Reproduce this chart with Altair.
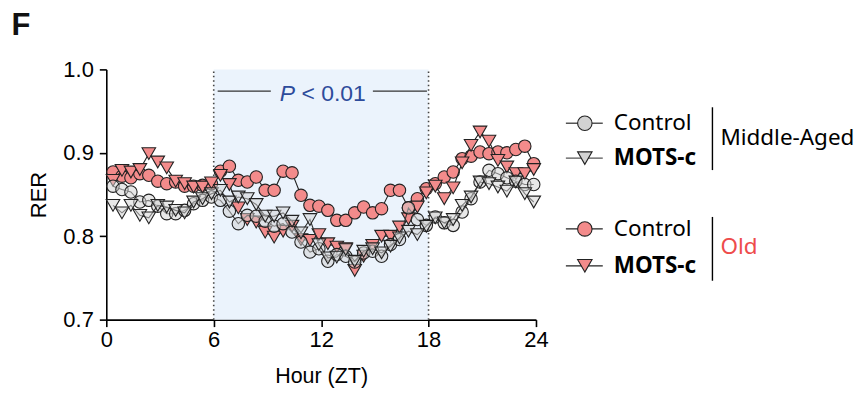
import altair as alt
import pandas as pd

# ---------------- data ----------------
hours = [0.375 + 0.5 * i for i in range(48)]

ma_control = [0.860, 0.856, 0.853, 0.841, 0.843, 0.836, 0.827, 0.827, 0.831, 0.839, 0.843, 0.847,
              0.843, 0.830, 0.815, 0.825, 0.824, 0.818, 0.812, 0.815, 0.805, 0.793, 0.781, 0.785,
              0.770, 0.778, 0.776, 0.769, 0.780, 0.782, 0.776, 0.790, 0.796, 0.834, 0.820, 0.813,
              0.823, 0.816, 0.813, 0.829, 0.845, 0.865, 0.879, 0.875, 0.870, 0.866, 0.862, 0.862]
ma_motsc = [0.837, 0.828, 0.837, 0.825, 0.822, 0.837, 0.835, 0.831, 0.828, 0.841, 0.845, 0.851,
            0.855, 0.841, 0.847, 0.845, 0.838, 0.824, 0.824, 0.828, 0.818, 0.804, 0.820, 0.790,
            0.774, 0.775, 0.784, 0.770, 0.782, 0.785, 0.780, 0.788, 0.798, 0.806, 0.802, 0.812,
            0.822, 0.816, 0.820, 0.837, 0.847, 0.865, 0.863, 0.859, 0.854, 0.865, 0.851, 0.841]
old_control = [0.877, 0.872, 0.870, 0.875, 0.873, 0.866, 0.863, 0.865, 0.860, 0.860, 0.861, 0.863,
               0.878, 0.884, 0.867, 0.865, 0.871, 0.855, 0.855, 0.878, 0.876, 0.849, 0.837, 0.836,
               0.831, 0.819, 0.819, 0.828, 0.835, 0.828, 0.833, 0.855, 0.855, 0.834, 0.845, 0.857,
               0.863, 0.871, 0.877, 0.893, 0.896, 0.901, 0.899, 0.901, 0.900, 0.904, 0.908, 0.887]
old_motsc = [0.867, 0.879, 0.877, 0.880, 0.899, 0.889, 0.882, 0.866, 0.863, 0.859, 0.859, 0.864,
             0.873, 0.862, 0.834, 0.820, 0.817, 0.805, 0.799, 0.806, 0.812, 0.796, 0.795, 0.802,
             0.791, 0.787, 0.785, 0.759, 0.776, 0.789, 0.800, 0.800, 0.811, 0.821, 0.835, 0.852,
             0.860, 0.845, 0.858, 0.888, 0.909, 0.925, 0.914, 0.891, 0.883, 0.875, 0.875, 0.880]

x_ticks = [0, 6, 12, 18, 24]
y_ticks = [0.7, 0.8, 0.9, 1.0]
night = {"start": [6], "end": [18], "lo": [0.7], "hi": [1.0]}
dotted_at = [6, 18]
p_italic = "P"
p_rest = "< 0.01"

# ---------------- styles / layout ----------------
W, H = 431, 251
AX_FONT = "Liberation Sans"
LEG_FONT = "Noto Sans"
RED = "#F38B8B"
GRAY = "#D2D2D2"
BLUE = "#2D4B9B"
OLD_RED = "#EE4B4B"

xs = alt.Scale(domain=[0, 24], nice=False, zero=False)
ys = alt.Scale(domain=[0.7, 1.0], nice=False, zero=False)

x_axis = alt.Axis(
    values=x_ticks, title="Hour (ZT)", format="d", grid=False,
    labelFont=AX_FONT, titleFont=AX_FONT, labelFontSize=22, titleFontSize=21.5,
    titleFontWeight="normal", labelColor="black", titleColor="black",
    domainColor="black", domainWidth=1.6, tickColor="black", tickWidth=1.6,
    tickSize=7, labelPadding=3, titlePadding=15, labelFlush=False)
y_axis = alt.Axis(
    values=y_ticks, title="RER", format=".1f", grid=False,
    labelFont=AX_FONT, titleFont=AX_FONT, labelFontSize=22, titleFontSize=22,
    titleFontWeight="normal", labelColor="black", titleColor="black",
    domainColor="black", domainWidth=1.6, tickColor="black", tickWidth=1.6,
    tickSize=7, labelPadding=6, titlePadding=12, labelFlush=False)


def X(f):
    return alt.X(f, scale=xs, axis=x_axis)


def Y(f):
    return alt.Y(f, scale=ys, axis=y_axis)


one = pd.DataFrame({"k": [0]})

# shaded dark phase
shade = alt.Chart(pd.DataFrame(night)).mark_rect(color="#EBF3FC").encode(
    x=X("start:Q"), x2="end:Q", y=Y("lo:Q"), y2="hi:Q")

rules = alt.Chart(pd.DataFrame({"start": dotted_at, "lo": [0.7, 0.7], "hi": [1.0, 1.0]})).mark_rule(
    color="#444", strokeWidth=1.6, strokeDash=[1.5, 3]).encode(
    x=X("start:Q"), y=Y("lo:Q"), y2="hi:Q")

# P annotation
P_Y = 0.974
P_TXT_Y = 0.962
ann_lines = alt.Chart(pd.DataFrame({"start": [6.22, 14.89], "end": [9.19, 17.91], "lo": [P_Y, P_Y]})).mark_rule(
    color="#333", strokeWidth=1.2).encode(x=X("start:Q"), x2="end:Q", y=Y("lo:Q"))
ann_p = alt.Chart(pd.DataFrame({"start": [10.12], "lo": [P_TXT_Y]})).mark_text(
    text=p_italic, font=AX_FONT, fontSize=23, fontStyle="italic", color=BLUE,
    align="center", baseline="alphabetic").encode(x=X("start:Q"), y=Y("lo:Q"))
ann_rest = alt.Chart(pd.DataFrame({"start": [10.9], "lo": [P_TXT_Y]})).mark_text(
    text=p_rest, font=AX_FONT, fontSize=23, color=BLUE,
    align="left", baseline="alphabetic").encode(x=X("start:Q"), y=Y("lo:Q"))


def series(vals, shape, fill, fill_op, size, line_color):
    df = pd.DataFrame({"start": hours, "lo": vals})
    enc = dict(x=X("start:Q"), y=Y("lo:Q"))
    line = alt.Chart(df).mark_line(color=line_color, strokeWidth=1.1).encode(**enc)
    pts = alt.Chart(df).mark_point(shape=shape, filled=True, fill=fill, fillOpacity=fill_op,
                                   stroke="#222", strokeWidth=1.1, size=size, opacity=1).encode(**enc)
    return [line, pts]


layers = [shade, rules, ann_lines, ann_p, ann_rest]
layers += series(old_control, "circle", RED, 1.0, 155, "#222")
layers += series(old_motsc, "triangle-down", RED, 1.0, 185, "#222")
layers += series(ma_control, "circle", GRAY, 0.5, 155, "#333")
layers += series(ma_motsc, "triangle-down", GRAY, 0.5, 185, "#333")

# ---------------- legend (pixel positions relative to plot origin) ----------------
LX0, LX1, LSX, LTX = 461, 498, 480, 509


def legend_row(y, shape, fill, line_color, label, bold):
    ln = alt.Chart(one).mark_rule(color=line_color, strokeWidth=1.3).encode(
        x=alt.value(LX0), x2=alt.value(LX1), y=alt.value(y))
    sym = alt.Chart(one).mark_point(shape=shape, filled=True, fill=fill, stroke="#222",
                                    strokeWidth=1.1, size=210, opacity=1).encode(
        x=alt.value(LSX), y=alt.value(y))
    txt = alt.Chart(one).mark_text(text=label, font=LEG_FONT, fontSize=22.5,
                                   fontWeight="bold" if bold else "normal", color="black",
                                   align="left", baseline="middle").encode(
        x=alt.value(LTX), y=alt.value(y))
    return [ln, sym, txt]


layers += legend_row(54, "circle", GRAY, "#555", "Control", False)
layers += legend_row(89, "triangle-down", GRAY, "#555", "MOTS-c", True)
layers += legend_row(160, "circle", RED, "#222", "Control", False)
layers += legend_row(197, "triangle-down", RED, "#222", "MOTS-c", True)

for y0, y1 in [(38, 101), (148, 212)]:
    layers.append(alt.Chart(one).mark_rule(color="black", strokeWidth=1.4).encode(
        x=alt.value(608), y=alt.value(y0), y2=alt.value(y1)))

layers.append(alt.Chart(one).mark_text(text="Middle-Aged", font=LEG_FONT, fontSize=22.5,
                                       color="black", align="left", baseline="middle").encode(
    x=alt.value(616), y=alt.value(69)))
layers.append(alt.Chart(one).mark_text(text="Old", font=LEG_FONT, fontSize=22.5,
                                       color=OLD_RED, align="left", baseline="middle").encode(
    x=alt.value(616), y=alt.value(178)))

# panel letter
layers.append(alt.Chart(one).mark_text(text="F", font=AX_FONT, fontSize=31, fontWeight="bold",
                                       color="#111", align="left", baseline="alphabetic").encode(
    x=alt.value(-95), y=alt.value(-34)))

chart = alt.layer(*layers).properties(
    width=W, height=H,
    background="white",
    autosize=alt.AutoSizeParams(type="none"),
    padding={"left": 98.6, "top": 61, "right": 320, "bottom": 68},
).configure_view(strokeWidth=0, stroke="transparent")

chart.save("out.html", embed_options={"renderer": "svg", "actions": False})
